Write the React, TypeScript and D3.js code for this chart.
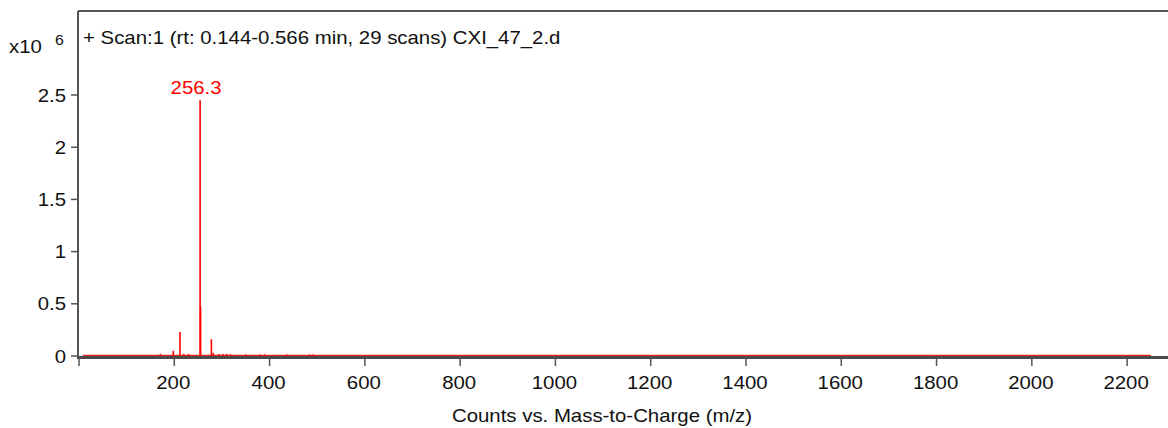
import React from "react";
import * as d3 from "d3";

const xTicks = [0, 200, 400, 600, 800, 1000, 1200, 1400, 1600, 1800, 2000, 2200];
const yTicks = [0, 0.5, 1, 1.5, 2, 2.5];
const mzRange = [10, 2252];
// peaks: m/z and intensity (x10^6)
const peakMz = [173, 200, 214, 222, 232, 256.3, 257.3, 280, 284, 296, 304, 312, 320, 352, 382, 392, 438, 486, 494];
const peakInt = [0.02, 0.05, 0.23, 0.02, 0.02, 2.45, 0.47, 0.16, 0.03, 0.02, 0.02, 0.02, 0.015, 0.015, 0.015, 0.015, 0.015, 0.015, 0.015];
const labelMz = 256.3;
const labelText = "256.3";
const title = "+ Scan:1 (rt: 0.144-0.566 min, 29 scans) CXI_47_2.d";
const xTitle = "Counts vs. Mass-to-Charge (m/z)";

const W = 1168, H = 428;
const left = 78, right = 1169, top = 11, bottom = 356;

function T(props: { x: number; y: number; size?: number; sx?: number; anchor?: string; fill?: string; children: React.ReactNode }) {
  const { x, y, size = 18, sx = 1.133, anchor = "start", fill = "#111", children } = props;
  return (
    <text transform={`translate(${x},${y}) scale(${sx},1)`} fontSize={size} textAnchor={anchor} fill={fill}>
      {children}
    </text>
  );
}

export default function App() {
  const x = d3.scaleLinear().domain([0, 2290]).range([left, right]);
  const y = d3.scaleLinear().domain([0, 2.5]).range([bottom, 95]);
  const font = "'Liberation Sans', Arial, sans-serif";
  const labelIdx = peakMz.indexOf(labelMz);
  return (
    <div style={{ position: "fixed", left: 0, top: 0 }}>
      <svg width={W} height={H} style={{ display: "block", background: "#fff" }} fontFamily={font}>
        <line x1={left} y1={top} x2={W} y2={top} stroke="#555" strokeWidth={2} />
        <line x1={left} y1={top} x2={left} y2={bottom + 2} stroke="#555" strokeWidth={2} />
        {yTicks.map((t) => (
          <g key={t}>
            <line x1={left - 7} x2={left} y1={y(t)} y2={y(t)} stroke="#555" strokeWidth={1.5} />
            <T x={left - 12} y={y(t) + 6.5} anchor="end">{t}</T>
          </g>
        ))}
        <T x={9} y={53}>x10</T>
        <T x={55} y={45} size={14}>6</T>
        <T x={83} y={44}>{title}</T>
        <line x1={x(mzRange[0])} x2={x(mzRange[1])} y1={y(0) - 0.5} y2={y(0) - 0.5} stroke="#e8231f" strokeWidth={1.5} />
        {peakMz.map((m, i) => (
          <line key={i} x1={x(m)} x2={x(m)} y1={y(0)} y2={y(peakInt[i])} stroke="#ff0000" strokeWidth={1.6} />
        ))}
        <T x={x(labelMz) - 4} y={y(peakInt[labelIdx]) - 6} anchor="middle" fill="#ff0000">{labelText}</T>
        <line x1={left - 1} x2={W} y1={bottom + 1.5} y2={bottom + 1.5} stroke="#4a4a4a" strokeWidth={3} />
        {xTicks.map((t) => (
          <g key={t}>
            <line x1={x(t) + 1} x2={x(t) + 1} y1={bottom + 3} y2={bottom + 10} stroke="#555" strokeWidth={1.5} />
            {t > 0 && <T x={x(t)} y={389} anchor="middle">{t}</T>}
          </g>
        ))}
        <T x={602} y={422} anchor="middle">{xTitle}</T>
      </svg>
    </div>
  );
}
